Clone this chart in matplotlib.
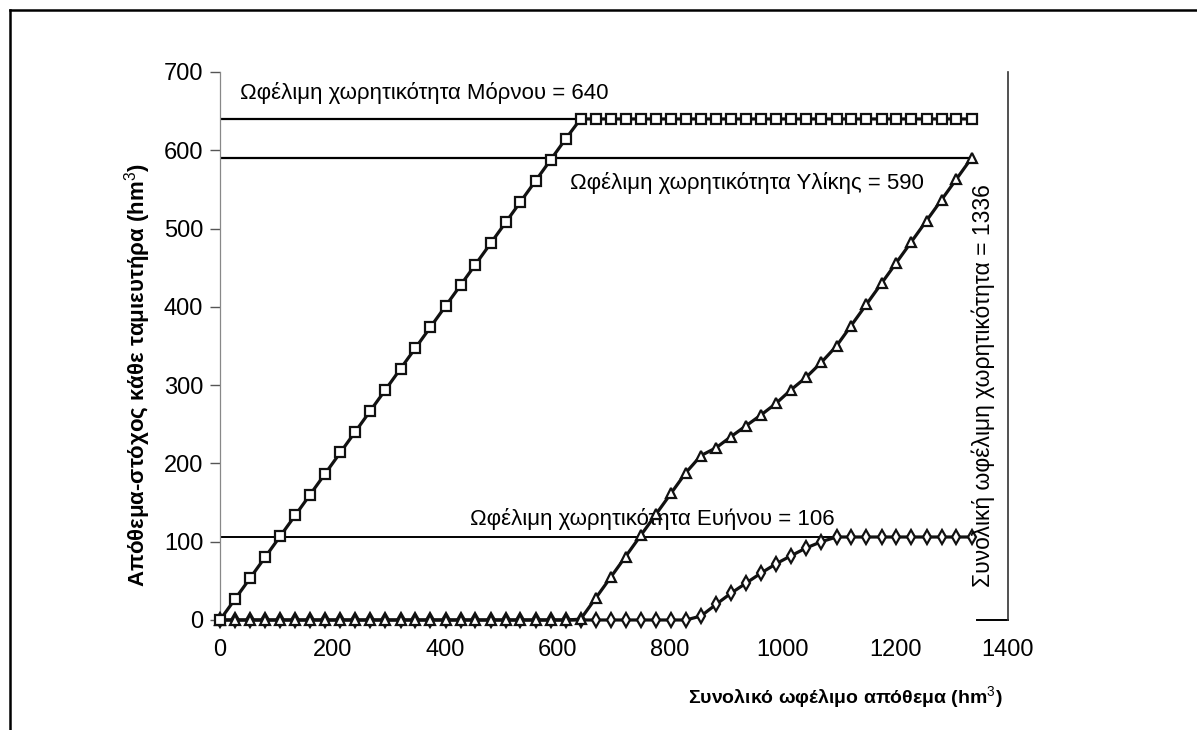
import matplotlib
matplotlib.use("Agg")
import matplotlib.pyplot as plt
from matplotlib import font_manager
from matplotlib.lines import Line2D

# ---- data ----
total_stock = [0, 27, 53, 80, 107, 134, 160, 187, 214, 240, 267, 294, 321, 347, 374, 401, 428,
               454, 481, 508, 534, 561, 588, 615, 641, 668, 695, 721, 748, 775, 802, 828, 855,
               882, 908, 935, 962, 989, 1015, 1042, 1069, 1096, 1122, 1149, 1176, 1202, 1229,
               1256, 1283, 1309, 1336]
mornos = [0, 27, 53, 80, 107, 134, 160, 187, 214, 240, 267, 294, 321, 347, 374, 401, 428,
          454, 481, 508, 534, 561, 588, 615, 640, 640, 640, 640, 640, 640, 640, 640, 640,
          640, 640, 640, 640, 640, 640, 640, 640, 640, 640, 640, 640, 640, 640, 640, 640,
          640, 640]
yliki = [0, 0, 0, 0, 0, 0, 0, 0, 0, 0, 0, 0, 0, 0, 0, 0, 0, 0, 0, 0, 0, 0, 0, 0, 1,
         28, 55, 81, 108, 135, 162, 188, 210, 220, 234, 248, 262, 277, 294, 310, 329,
         350, 376, 403, 430, 456, 483, 510, 537, 563, 590]
evinos = [0, 0, 0, 0, 0, 0, 0, 0, 0, 0, 0, 0, 0, 0, 0, 0, 0, 0, 0, 0, 0, 0, 0, 0, 0,
          0, 0, 0, 0, 0, 0, 0, 5, 20, 34, 47, 60, 72, 82, 92, 100, 106, 106, 106, 106,
          106, 106, 106, 106, 106, 106]

cap_mornos = 640
cap_yliki = 590
cap_evinos = 106
cap_total = 1336

x_ticks = [0, 200, 400, 600, 800, 1000, 1200, 1400]
y_ticks = [0, 100, 200, 300, 400, 500, 600, 700]

txt_mornos = "Ωφέλιμη χωρητικότητα Μόρνου = 640"
txt_yliki = "Ωφέλιμη χωρητικότητα Υλίκης = 590"
txt_evinos = "Ωφέλιμη χωρητικότητα Ευήνου = 106"
txt_total = "Συνολική ωφέλιμη χωρητικότητα = 1336"
xlabel = "Συνολικό ωφέλιμο απόθεμα (hm$^3$)"
ylabel = "Απόθεμα-στόχος κάθε ταμιευτήρα (hm$^3$)"

# ---- font ----
family = "Liberation Sans"
try:
    font_manager.findfont(font_manager.FontProperties(family="Liberation Sans Narrow"),
                          fallback_to_default=False)
    family = "Liberation Sans Narrow"
except Exception:
    pass
plt.rcParams["font.family"] = [family, "DejaVu Sans"]
plt.rcParams["mathtext.fontset"] = "custom"
plt.rcParams["mathtext.rm"] = family
plt.rcParams["mathtext.bf"] = family + ":bold"

fig = plt.figure(figsize=(11.97, 7.30), dpi=100)
ax = fig.add_axes([0.1838, 0.1507, 0.6579, 0.7507])
ax.set_xlim(0, 1400)
ax.set_ylim(0, 700)

# reference capacity lines
ax.plot([0, cap_mornos], [cap_mornos, cap_mornos], color="black", lw=1.6, zorder=2)
ax.plot([0, cap_total], [cap_yliki, cap_yliki], color="black", lw=1.6, zorder=2)
ax.plot([0, total_stock[41]], [cap_evinos, cap_evinos], color="black", lw=1.4, zorder=2)
ax.plot([1345, 1400], [0, 0], color="black", lw=1.4, zorder=2, clip_on=False)

# series
common = dict(color="#111111", lw=2.3, mfc="white", mec="#111111", mew=1.6, clip_on=False)
ax.plot(total_stock, evinos, marker="d", ms=7, zorder=3, **common)
ax.plot(total_stock, yliki, marker="^", ms=7.5, zorder=4, **common)
ax.plot(total_stock, mornos, marker="s", ms=7.5, zorder=5, **common)

# annotations
ax.text(36, 673, txt_mornos, fontsize=16, ha="left", va="center")
ax.text(622, 558, txt_yliki, fontsize=16, ha="left", va="center")
ax.text(444, 129, txt_evinos, fontsize=16, ha="left", va="center")
ax.text(1357, 300, txt_total, fontsize=16.5, ha="center", va="center", rotation=90)

# axes styling
ax.set_xticks(x_ticks)
ax.set_yticks(y_ticks)
ax.tick_params(axis="x", length=0, pad=14, labelsize=17)
ax.tick_params(axis="y", length=7, width=1, color="#555555", pad=5, labelsize=17,
               direction="out")
for s in ("top", "bottom"):
    ax.spines[s].set_visible(False)
ax.spines["left"].set_color("#888888")
ax.spines["left"].set_linewidth(0.9)
ax.spines["right"].set_color("#333333")
ax.spines["right"].set_linewidth(1.2)

ax.text(0.994, -0.142, xlabel, transform=ax.transAxes, ha="right", va="center",
        fontsize=14, fontweight="bold")
ax.text(-0.105, 0.447, ylabel, transform=ax.transAxes, ha="center", va="center",
        fontsize=16, fontweight="bold", rotation=90)

# outer frame (scanned page border)
fig.add_artist(Line2D([10 / 1197, 1.0], [1 - 10 / 730, 1 - 10 / 730],
                      transform=fig.transFigure, color="black", lw=1.8))
fig.add_artist(Line2D([10 / 1197, 10 / 1197], [0, 1 - 10 / 730],
                      transform=fig.transFigure, color="black", lw=1.8))

fig.savefig("out.png", dpi=100)
